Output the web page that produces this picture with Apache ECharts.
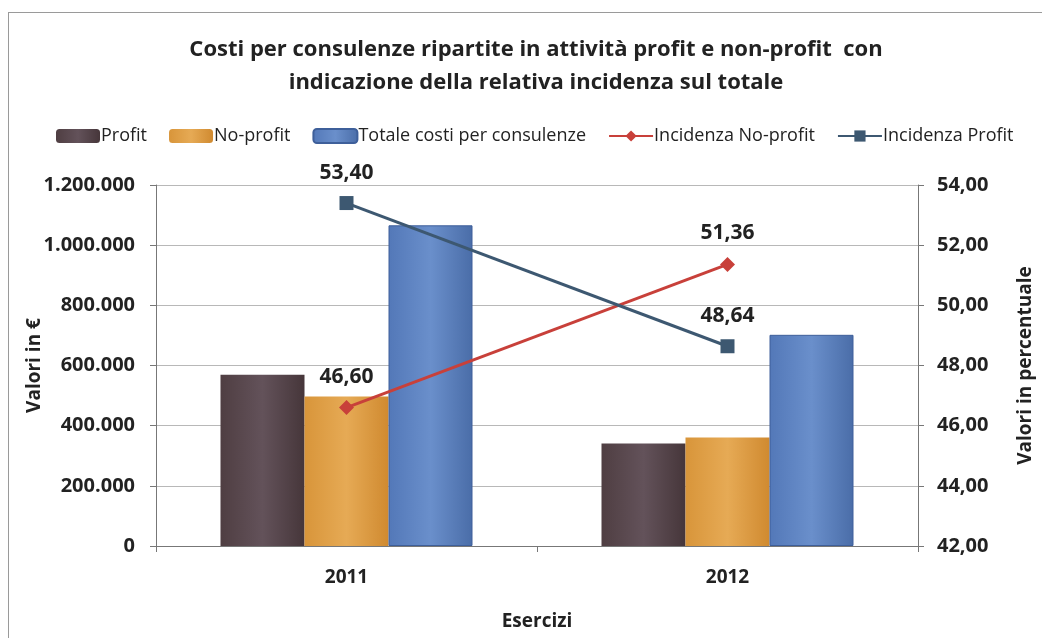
<!DOCTYPE html>
<html>
<head>
<meta charset="utf-8">
<script src="https://cdn.jsdelivr.net/npm/echarts@6/dist/echarts.min.js"></script>
<style>
  html, body { margin: 0; padding: 0; background: #fff; overflow: hidden; }
  #chart { position: absolute; left: 8px; top: 12px; width: 1040px; height: 630px; box-sizing: border-box; border-left: 1px solid #9a9a9a; border-top: 1px solid #9a9a9a; }
</style>
</head>
<body>
<div id="chart"></div>
<script>
const years = ["2011", "2012"];
const profit = [569000, 341000];
const noProfit = [497000, 361000];
const totale = [1066000, 702000];
const incNoProfit = [46.60, 51.36];
const incProfit = [53.40, 48.64];

const FONT = "'Open Sans', sans-serif";

const fmtThousands = v => String(Math.round(v)).replace(/\B(?=(\d{3})+(?!\d))/g, ".");
const fmtPct = v => Number(v).toFixed(2).replace(".", ",");

const barGrad = (c1, c2, c3) => new echarts.graphic.LinearGradient(0, 0, 1, 0, [
  { offset: 0, color: c1 },
  { offset: 0.5, color: c2 },
  { offset: 1, color: c3 }
]);

const chart = echarts.init(document.getElementById("chart"));

const option = {
  animation: false,
  textStyle: { fontFamily: FONT },
  title: {
    text: "Costi per consulenze ripartite in attività profit e non-profit  con\nindicazione della relativa incidenza sul totale",
    left: 522,
    top: 15,
    textAlign: "center",
    textStyle: { fontFamily: FONT, fontSize: 22, fontWeight: "bold", color: "#222", lineHeight: 33 }
  },
  legend: {
    top: 109,
    left: 42,
    itemGap: 22,
    itemWidth: 44,
    itemHeight: 14,
    textStyle: { fontFamily: FONT, fontSize: 18, color: "#222", padding: [0, 0, 0, -4] },
    data: ["Profit", "No-profit", "Totale costi per consulenze", "Incidenza No-profit", "Incidenza Profit"]
  },
  grid: { left: 147, right: 130, top: 172, bottom: 96 },
  xAxis: {
    type: "category",
    data: years,
    name: "Esercizi",
    nameLocation: "middle",
    nameGap: 66,
    nameMoveOverlap: false,
    nameTextStyle: { fontFamily: FONT, fontSize: 19, fontWeight: "bold", color: "#222" },
    axisLine: { lineStyle: { color: "#777" } },
    axisTick: { show: true, lineStyle: { color: "#777" }, length: 6 },
    axisLabel: { fontFamily: FONT, fontSize: 19, fontWeight: "bold", color: "#222", margin: 22 }
  },
  yAxis: [
    {
      type: "value",
      min: 0,
      max: 1200000,
      interval: 200000,
      name: "Valori in €",
      nameLocation: "middle",
      nameGap: 112,
      nameMoveOverlap: false,
      nameRotate: 90,
      nameTextStyle: { fontFamily: FONT, fontSize: 19, fontWeight: "bold", color: "#222" },
      axisLine: { show: true, lineStyle: { color: "#777" } },
      axisTick: { show: true, lineStyle: { color: "#777" }, length: 6 },
      axisLabel: { fontFamily: FONT, fontSize: 20, fontWeight: "bold", color: "#222", margin: 21, formatter: fmtThousands },
      splitLine: { lineStyle: { color: "#b8b8b8" } }
    },
    {
      type: "value",
      min: 42,
      max: 54,
      interval: 2,
      name: "Valori in percentuale",
      nameLocation: "middle",
      nameGap: 98,
      nameMoveOverlap: false,
      nameRotate: 90,
      nameTextStyle: { fontFamily: FONT, fontSize: 19, fontWeight: "bold", color: "#222" },
      axisLine: { show: true, lineStyle: { color: "#777" } },
      axisTick: { show: true, lineStyle: { color: "#777" }, length: 6 },
      axisLabel: { fontFamily: FONT, fontSize: 20, fontWeight: "bold", color: "#222", margin: 19, formatter: fmtPct },
      splitLine: { show: false }
    }
  ],
  series: [
    {
      name: "Profit",
      type: "bar",
      data: profit,
      barWidth: 84,
      barGap: "0%",
      itemStyle: { color: barGrad("#4f3e42", "#63525a", "#46363a") }
    },
    {
      name: "No-profit",
      type: "bar",
      data: noProfit,
      barWidth: 84,
      barGap: "0%",
      itemStyle: { color: barGrad("#d8953a", "#e6aa55", "#d08a30") }
    },
    {
      name: "Totale costi per consulenze",
      type: "bar",
      data: totale,
      barWidth: 84,
      barGap: "0%",
      itemStyle: { color: barGrad("#5378b8", "#6a8fcb", "#4a6da8"), borderColor: "#3e5f9a", borderWidth: 1 }
    },
    {
      name: "Incidenza No-profit",
      type: "line",
      yAxisIndex: 1,
      data: incNoProfit,
      symbol: "diamond",
      symbolSize: 15,
      lineStyle: { color: "#c8403a", width: 3 },
      itemStyle: { color: "#c8403a" },
      label: { show: true, position: "top", distance: 13, fontFamily: FONT, fontSize: 21, fontWeight: "bold", color: "#222", formatter: p => fmtPct(p.value) },
      z: 5
    },
    {
      name: "Incidenza Profit",
      type: "line",
      yAxisIndex: 1,
      data: incProfit,
      symbol: "rect",
      symbolSize: 14,
      lineStyle: { color: "#3d5871", width: 3 },
      itemStyle: { color: "#3d5871" },
      label: { show: true, position: "top", distance: 13, fontFamily: FONT, fontSize: 21, fontWeight: "bold", color: "#222", formatter: p => fmtPct(p.value) },
      z: 5
    }
  ]
};

chart.setOption(option);
</script>
</body>
</html>
